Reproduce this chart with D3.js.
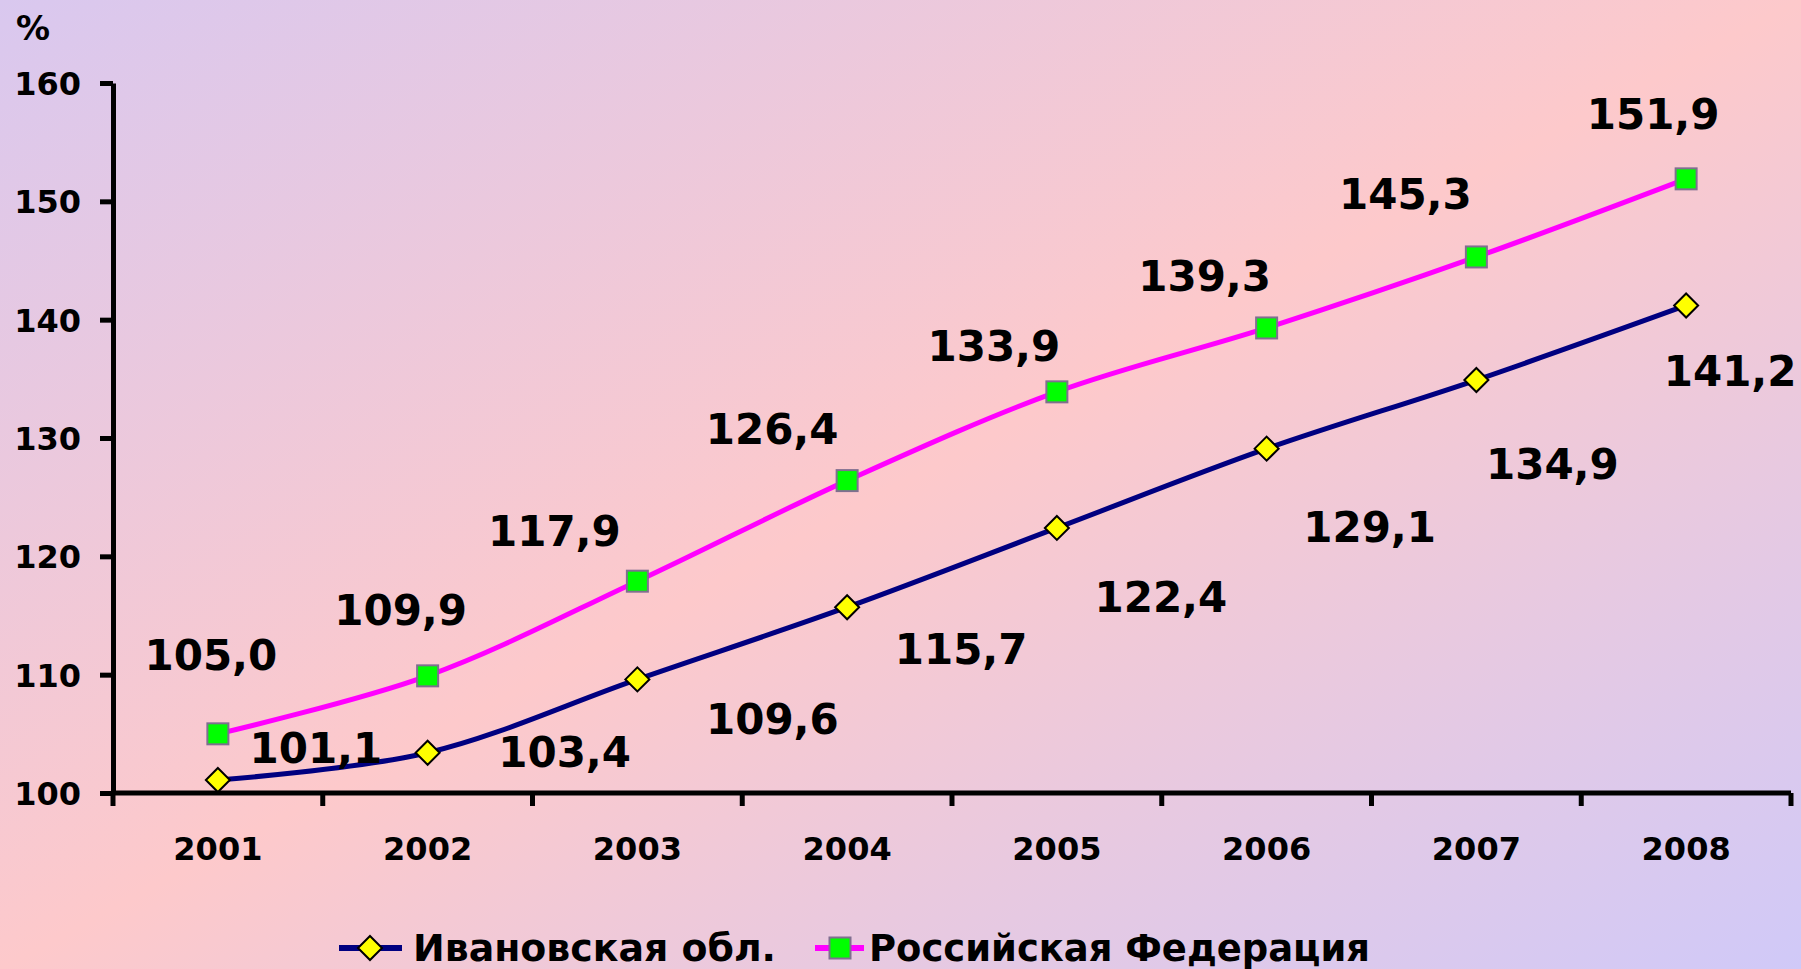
<!DOCTYPE html>
<html>
<head>
<meta charset="utf-8">
<script src="https://cdn.jsdelivr.net/npm/d3@7"></script>
<style>
  html, body { margin: 0; padding: 0; overflow: hidden; }
  text { font-family: "DejaVu Sans", Verdana, sans-serif; font-weight: bold; fill: #000; }
</style>
</head>
<body>
<div id="canvas"></div>
<script>
var years = ["2001", "2002", "2003", "2004", "2005", "2006", "2007", "2008"]
var ivanovo = [101.1, 103.4, 109.6, 115.7, 122.4, 129.1, 134.9, 141.2]
var russia = [105.0, 109.9, 117.9, 126.4, 133.9, 139.3, 145.3, 151.9]
var yTicks = [100, 110, 120, 130, 140, 150, 160]
var seriesNames = ["Ивановская обл.", "Российская Федерация"]

// label offsets from the point (layout only)
var rusLabelOff = [[-7, -79], [-27, -66], [-83, -50], [-75, -52], [-63, -46], [-62, -52], [-71, -63], [-33, -65]]
var ivaLabelOff = [[98, -32], [137, -1], [135, 39], [114, 42], [104, 69], [103, 78], [76, 84], [44, 65]]

var width = 1801
var height = 969
var plotL = 113, plotR = 1791, plotT = 83, plotB = 793

var svg = d3.select("#canvas")
    .append("svg")
    .attr("width", width)
    .attr("height", height)

// background
var defs = svg.append("defs")
var grad = defs.append("linearGradient")
    .attr("id", "bg")
    .attr("x1", 0).attr("y1", 0).attr("x2", 1).attr("y2", 1)
grad.append("stop").attr("offset", 0).attr("stop-color", "#d9c8ef")
grad.append("stop").attr("offset", 0.5).attr("stop-color", "#fdc9cb")
grad.append("stop").attr("offset", 1).attr("stop-color", "#d0c9f8")

svg.append("rect")
    .attr("width", width)
    .attr("height", height)
    .attr("fill", "url(#bg)")

var xScale = d3.scaleBand().domain(years).range([plotL, plotR]).padding(0)
var yScale = d3.scaleLinear().domain([100, 160]).range([plotB, plotT])

function cx(i) { return xScale(years[i]) + xScale.bandwidth() / 2 }

// y axis
var yAxis = svg.append("g")
    .attr("transform", `translate(${plotL},0)`)
    .call(d3.axisLeft(yScale)
        .tickValues(yTicks)
        .tickSize(13)
        .tickSizeOuter(0)
        .tickPadding(19)
        .tickFormat(d3.format("d")))
yAxis.select(".domain").attr("stroke", "#000").attr("stroke-width", 5)
yAxis.selectAll(".tick line").attr("stroke", "#000").attr("stroke-width", 5)
yAxis.selectAll(".tick text")
    .style("font-size", "32px")
    .attr("dy", "0.36em")

// x axis
var xg = svg.append("g")
xg.append("line")
    .attr("x1", plotL - 2).attr("x2", plotR)
    .attr("y1", plotB).attr("y2", plotB)
    .attr("stroke", "#000").attr("stroke-width", 5)
var tickPos = years.map(function (y) { return xScale(y) }).concat([plotR])
xg.selectAll(".xtick")
    .data(tickPos)
    .enter()
    .append("line")
    .attr("x1", function (d) { return d }).attr("x2", function (d) { return d })
    .attr("y1", plotB).attr("y2", plotB + 13)
    .attr("stroke", "#000").attr("stroke-width", 5)
xg.selectAll(".xlabel")
    .data(years)
    .enter()
    .append("text")
    .attr("x", function (d, i) { return cx(i) })
    .attr("y", 860)
    .attr("text-anchor", "middle")
    .style("font-size", "32px")
    .text(function (d) { return d })

svg.append("text")
    .attr("x", 16).attr("y", 40)
    .style("font-size", "34px")
    .text("%")

// lines
var line = d3.line()
    .x(function (d, i) { return cx(i) })
    .y(function (d) { return yScale(d) })
    .curve(d3.curveCatmullRom.alpha(0.5))

svg.append("path")
    .datum(russia)
    .attr("d", line)
    .attr("fill", "none")
    .attr("stroke", "#ff00ff")
    .attr("stroke-width", 5)

svg.append("path")
    .datum(ivanovo)
    .attr("d", line)
    .attr("fill", "none")
    .attr("stroke", "#000080")
    .attr("stroke-width", 5)

var sq = 21
svg.selectAll(".sq")
    .data(russia)
    .enter()
    .append("rect")
    .attr("x", function (d, i) { return cx(i) - sq / 2 })
    .attr("y", function (d) { return yScale(d) - sq / 2 })
    .attr("width", sq).attr("height", sq)
    .attr("fill", "#00ff00")
    .attr("stroke", "#7f6f8f")
    .attr("stroke-width", 2)

var dm = 12
function diamond(x, y) {
    return `M${x},${y - dm}L${x + dm},${y}L${x},${y + dm}L${x - dm},${y}Z`
}
svg.selectAll(".dm")
    .data(ivanovo)
    .enter()
    .append("path")
    .attr("d", function (d, i) { return diamond(cx(i), yScale(d)) })
    .attr("fill", "#ffff00")
    .attr("stroke", "#000")
    .attr("stroke-width", 2)

// data labels
function fmt(v) { return v.toFixed(1).replace(".", ",") }
var labelSize = 42

svg.selectAll(".rl")
    .data(russia)
    .enter()
    .append("text")
    .attr("x", function (d, i) { return cx(i) + rusLabelOff[i][0] })
    .attr("y", function (d, i) { return yScale(d) + rusLabelOff[i][1] + labelSize * 0.36 })
    .attr("text-anchor", "middle")
    .style("font-size", labelSize + "px")
    .text(fmt)

svg.selectAll(".il")
    .data(ivanovo)
    .enter()
    .append("text")
    .attr("x", function (d, i) { return cx(i) + ivaLabelOff[i][0] })
    .attr("y", function (d, i) { return yScale(d) + ivaLabelOff[i][1] + labelSize * 0.36 })
    .attr("text-anchor", "middle")
    .style("font-size", labelSize + "px")
    .text(fmt)

// legend
var lg = svg.append("g")
var legY = 948
lg.append("line")
    .attr("x1", 339).attr("x2", 402).attr("y1", legY).attr("y2", legY)
    .attr("stroke", "#000080").attr("stroke-width", 6)
lg.append("path")
    .attr("d", diamond(370, legY))
    .attr("fill", "#ffff00").attr("stroke", "#000").attr("stroke-width", 2)
lg.append("text")
    .attr("x", 413).attr("y", 961)
    .attr("textLength", 363).attr("lengthAdjust", "spacingAndGlyphs")
    .style("font-size", "38px")
    .text(seriesNames[0])

lg.append("line")
    .attr("x1", 815).attr("x2", 864).attr("y1", legY).attr("y2", legY)
    .attr("stroke", "#ff00ff").attr("stroke-width", 6)
lg.append("rect")
    .attr("x", 840 - sq / 2).attr("y", legY - sq / 2)
    .attr("width", sq).attr("height", sq)
    .attr("fill", "#00ff00").attr("stroke", "#7f6f8f").attr("stroke-width", 2)
lg.append("text")
    .attr("x", 869).attr("y", 961)
    .attr("textLength", 501).attr("lengthAdjust", "spacingAndGlyphs")
    .style("font-size", "38px")
    .text(seriesNames[1])
</script>
</body>
</html>
